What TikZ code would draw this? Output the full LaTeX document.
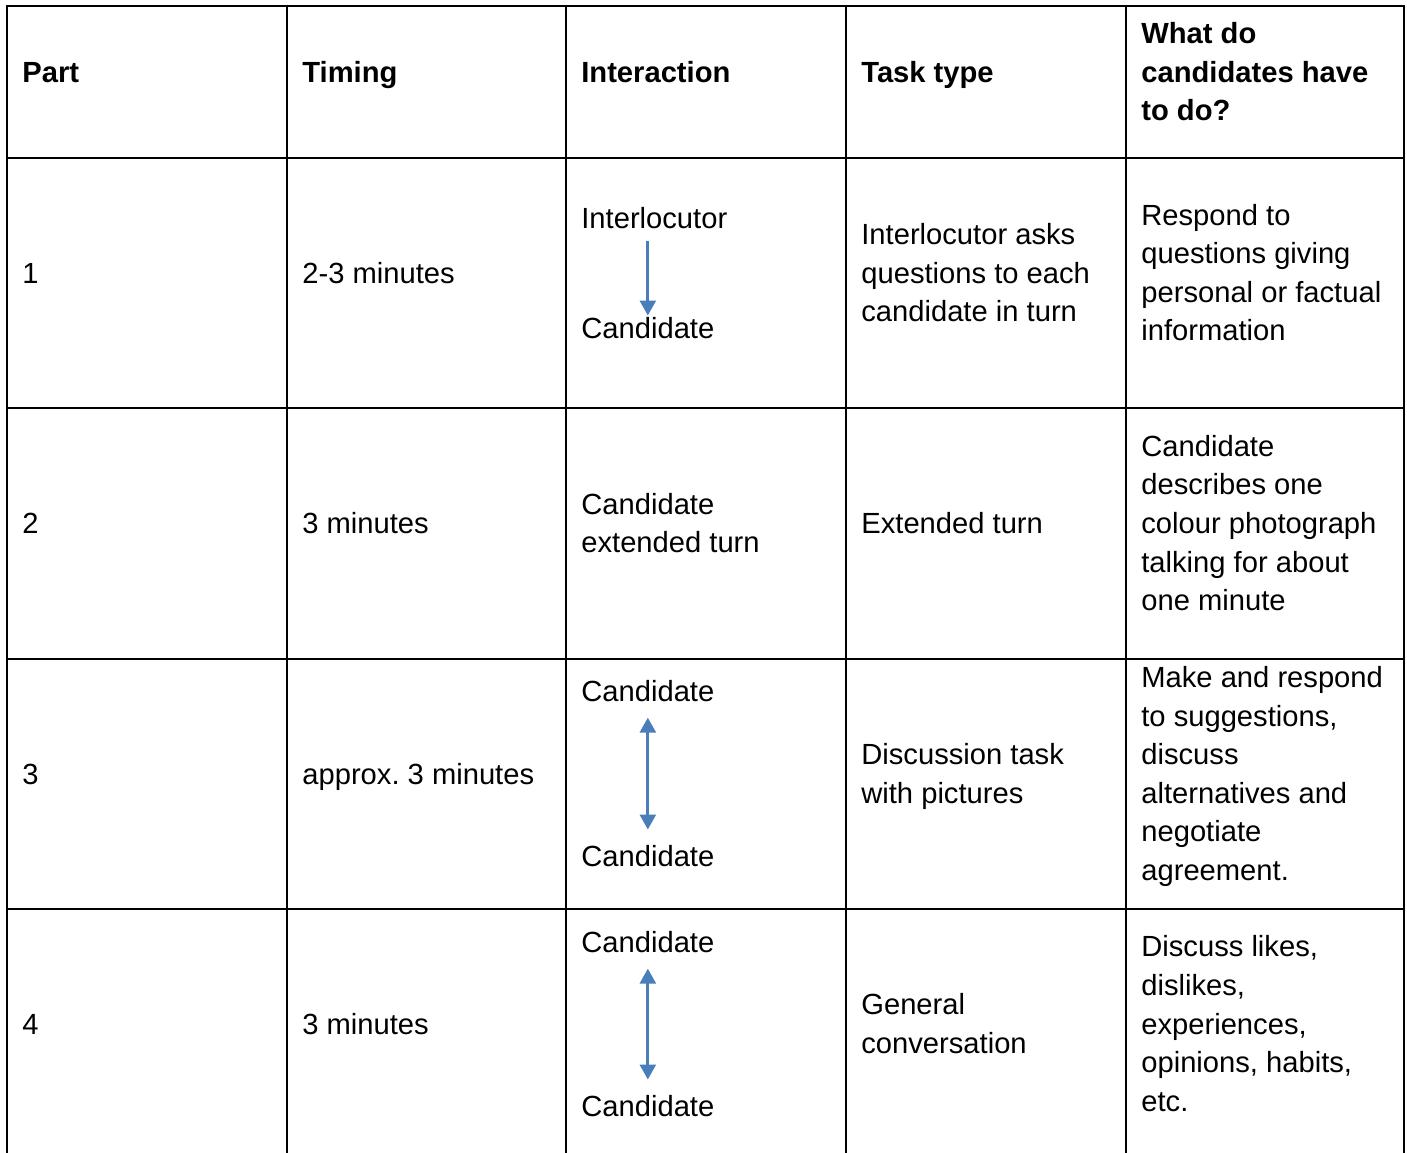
\documentclass[tikz,border=0pt]{standalone}
\usepackage{fontspec}
\setmainfont{Liberation Sans}
\usetikzlibrary{arrows.meta}
\setlength{\parindent}{0pt}
\definecolor{arrowblue}{RGB}{74,126,187}
\newcommand{\tp}{\rule{0pt}{13pt}}
\newcommand{\bt}{\rule[-13pt]{0pt}{13pt}}

\begin{document}
\begin{tikzpicture}[x=0.02cm, y=-0.02cm,
    rule/.style={line width=1.1pt, line cap=rect},
    cell/.style={anchor=west, align=left, inner sep=0pt, font=\fontsize{16.6}{22}\selectfont},
    head/.style={cell, font=\fontsize{16.6}{22}\selectfont\bfseries},
    who/.style={anchor=base west, inner sep=0pt, font=\fontsize{16.6}{22}\selectfont},
    flow/.style={arrowblue, line width=1.7pt, -{Triangle[width=9pt,length=8.5pt]}, shorten <=0.23cm, shorten >=0.03cm},
    both/.style={arrowblue, line width=1.7pt, {Triangle[width=9pt,length=8.5pt]}-{Triangle[width=9pt,length=8.5pt]}, shorten <=0.31cm, shorten >=0.31cm}]
    \useasboundingbox (0,0) rectangle (1407,1153);

    % table rules
    \foreach \y in {6,158,408,659,909} \draw[rule] (7,\y) -- (1404,\y);
    \foreach \x in {7,287,566,846,1126,1404} \draw[rule] (\x,6) -- (\x,1153);

    % header
    \node[head] (hpart) at (22,82) {\tp Part\bt};
    \node[head] (htime) at (302,82) {\tp Timing\bt};
    \node[head] (hint) at (581,82) {\tp Interaction\bt};
    \node[head] (htask) at (861,82) {\tp Task type\bt};
    \node[head] (hdo) at (1141,82) {\tp What do\\candidates have\\to do?\bt};

    % part 1
    \node[cell] (p1) at (22,283) {\tp 1\bt};
    \node[cell] (t1) at (302,283) {\tp 2-3 minutes\bt};
    \node[who] (i1) at (581,228.5) {Interlocutor};
    \node[who] (c1) at (581,338.5) {Candidate};
    \node[cell] (k1) at (861,283) {\tp Interlocutor asks\\questions to each\\candidate in turn\bt};
    \node[cell] (d1) at (1141,283) {\tp Respond to\\questions giving\\personal or factual\\information\bt};
    \draw[flow] (i1.south -| c1.north) -- (c1.north);

    % part 2
    \node[cell] (p2) at (22,533.5) {\tp 2\bt};
    \node[cell] (t2) at (302,533.5) {\tp 3 minutes\bt};
    \node[cell] (i2) at (581,533.5) {\tp Candidate\\extended turn\bt};
    \node[cell] (k2) at (861,533.5) {\tp Extended turn\bt};
    \node[cell] (d2) at (1141,533.5) {\tp Candidate\\describes one\\colour photograph\\talking for about\\one minute\bt};

    % part 3
    \node[cell] (p3) at (22,784) {\tp 3\bt};
    \node[cell] (t3) at (302,784) {\tp approx.\ 3 minutes\bt};
    \node[who] (a3) at (581,701.5) {Candidate};
    \node[who] (b3) at (581,866.5) {Candidate};
    \node[cell] (k3) at (861,784) {\tp Discussion task\\with pictures\bt};
    \node[cell] (d3) at (1141,784) {\tp Make and respond\\to suggestions,\\discuss\\alternatives and\\negotiate\\agreement.\bt};
    \draw[both] (a3.south) -- (b3.north);

    % part 4
    \node[cell] (p4) at (22,1034) {\tp 4\bt};
    \node[cell] (t4) at (302,1034) {\tp 3 minutes\bt};
    \node[who] (a4) at (581,952.5) {Candidate};
    \node[who] (b4) at (581,1116.5) {Candidate};
    \node[cell] (k4) at (861,1034) {\tp General\\conversation\bt};
    \node[cell] (d4) at (1141,1034) {\tp Discuss likes,\\dislikes,\\experiences,\\opinions, habits,\\etc.\bt};
    \draw[both] (a4.south) -- (b4.north);
\end{tikzpicture}
\end{document}
